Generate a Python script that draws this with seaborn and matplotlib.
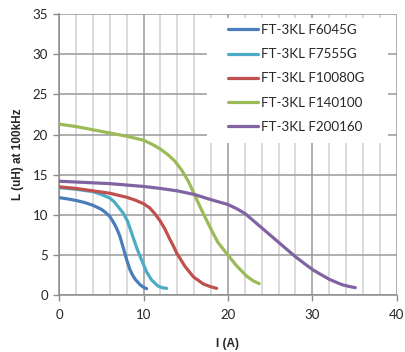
import matplotlib
matplotlib.use("Agg")
import matplotlib.pyplot as plt
from matplotlib.ticker import MultipleLocator
from matplotlib.patches import Rectangle
import seaborn as sns
import pandas as pd

series_names = ["FT-3KL F6045G", "FT-3KL F7555G", "FT-3KL F10080G", "FT-3KL F140100", "FT-3KL F200160"]
colors = ["#4A7EBB", "#4BACC6", "#C0504D", "#9BBB59", "#8064A2"]

x_f6045 = [0, 1, 2, 3, 4, 5, 5.5, 6, 6.3, 6.6, 6.9, 7.2, 7.6, 8.0, 8.4, 8.7, 9.0, 9.6, 10.0, 10.36]
y_f6045 = [12.15, 12.0, 11.8, 11.55, 11.2, 10.7, 10.3, 9.8, 9.3, 8.75, 8.1, 7.3, 5.85, 4.4, 3.15, 2.5, 2.0, 1.3, 1.0, 0.83]

x_f7555 = [0, 2, 4, 5, 6, 6.5, 7.0, 7.6, 8.1, 8.6, 9.2, 9.76, 10.36, 10.95, 11.7, 12.2, 12.73]
y_f7555 = [13.4, 13.2, 12.9, 12.55, 12.1, 11.65, 11.0, 10.2, 9.2, 7.7, 5.85, 4.4, 2.9, 1.9, 1.16, 0.95, 0.87]

x_f10080 = [0, 2, 4, 6, 8, 9, 10, 10.7, 11.3, 11.9, 12.5, 13.1, 13.5, 13.9, 14.9, 15.9, 17.1, 18.0, 18.66]
y_f10080 = [13.5, 13.3, 13.0, 12.7, 12.2, 11.85, 11.4, 10.9, 10.2, 9.35, 8.3, 7.0, 6.2, 5.3, 3.6, 2.3, 1.4, 1.05, 0.87]

x_f140100 = [0, 2, 4, 6, 8, 10, 11, 12, 13, 13.7, 14.5, 15.3, 16.0, 16.7, 17.3, 18.1, 18.8, 20.0, 21.0, 22.2, 23.0, 23.7]
y_f140100 = [21.3, 21.0, 20.6, 20.2, 19.8, 19.3, 18.8, 18.2, 17.4, 16.7, 15.6, 14.2, 12.6, 11.0, 9.7, 8.0, 6.6, 5.0, 3.7, 2.4, 1.8, 1.45]

x_f200160 = [0, 3, 6, 10, 12, 14, 16, 18, 19, 20, 21, 22, 23, 24, 25, 26, 27, 28, 29, 30.1, 31, 32, 33, 33.6, 34.4, 35.1]
y_f200160 = [14.2, 14.05, 13.9, 13.55, 13.3, 13.0, 12.55, 11.9, 11.6, 11.3, 10.8, 10.2, 9.3, 8.4, 7.5, 6.6, 5.7, 4.8, 4.0, 3.15, 2.6, 2.0, 1.55, 1.3, 1.1, 0.95]

xs = [x_f6045, x_f7555, x_f10080, x_f140100, x_f200160]
ys = [y_f6045, y_f7555, y_f10080, y_f140100, y_f200160]

frames = []
for name, xv, yv in zip(series_names, xs, ys):
    frames.append(pd.DataFrame({"I": xv, "L": yv, "series": name}))
df = pd.concat(frames, ignore_index=True)

sns.set_style("white")
plt.rcParams["font.family"] = ["Lato", "DejaVu Sans"]

fig = plt.figure(figsize=(4.06, 3.52), dpi=100)
ax = fig.add_axes([0.146, 0.161, 0.831, 0.799])

sns.lineplot(data=df, x="I", y="L", hue="series", hue_order=series_names,
             palette=colors, sort=False, estimator=None, units="series",
             linewidth=2.3, ax=ax, legend=True)
for ln in ax.get_lines():
    ln.set_solid_capstyle("round")
    ln.set_solid_joinstyle("round")
    ln.set_zorder(3)

ax.set_xlim(0, 40)
ax.set_ylim(0, 35)
ax.xaxis.set_major_locator(MultipleLocator(10))
ax.xaxis.set_minor_locator(MultipleLocator(2))
ax.yaxis.set_major_locator(MultipleLocator(5))
ax.grid(which="minor", axis="x", color="#D4D4D4", linewidth=1.2)
ax.grid(which="major", axis="both", color="#999999", linewidth=1.1)
ax.set_axisbelow(True)
for s in ["top", "right"]:
    ax.spines[s].set_visible(False)
for s in ["left", "bottom"]:
    ax.spines[s].set_color("#8C8C8C")
    ax.spines[s].set_linewidth(1.1)

# white legend background box
ax.add_patch(Rectangle((0.438, 0.541), 0.536, 0.445, transform=ax.transAxes,
                       facecolor="white", edgecolor="none", zorder=1))

ax.tick_params(axis="both", which="major", length=4, color="#8C8C8C", width=1.0,
               labelsize=9.5, direction="out", pad=4)
ax.tick_params(axis="x", which="minor", length=0)
ax.tick_params(axis="x", which="major", pad=6)
ax.tick_params(left=True, bottom=True)

label_font = ["Liberation Sans", "DejaVu Sans"]
ax.set_xlabel("I (A)", fontsize=8.5, fontweight="bold", family=label_font, labelpad=12)
ax.set_ylabel("L (uH) at 100kHz", fontsize=8.5, fontweight="bold", family=label_font, labelpad=6)

leg = ax.legend(loc="upper left", bbox_to_anchor=((228 - 59.3) / 337.4, 0.965), fontsize=9.6,
                frameon=False, handlelength=2.25, handletextpad=0.22,
                labelspacing=0.92, borderpad=0.0, borderaxespad=0.0)
leg.set_zorder(4)
for h in leg.get_lines():
    h.set_linewidth(2.3)

fig.savefig("out.png", dpi=100)
